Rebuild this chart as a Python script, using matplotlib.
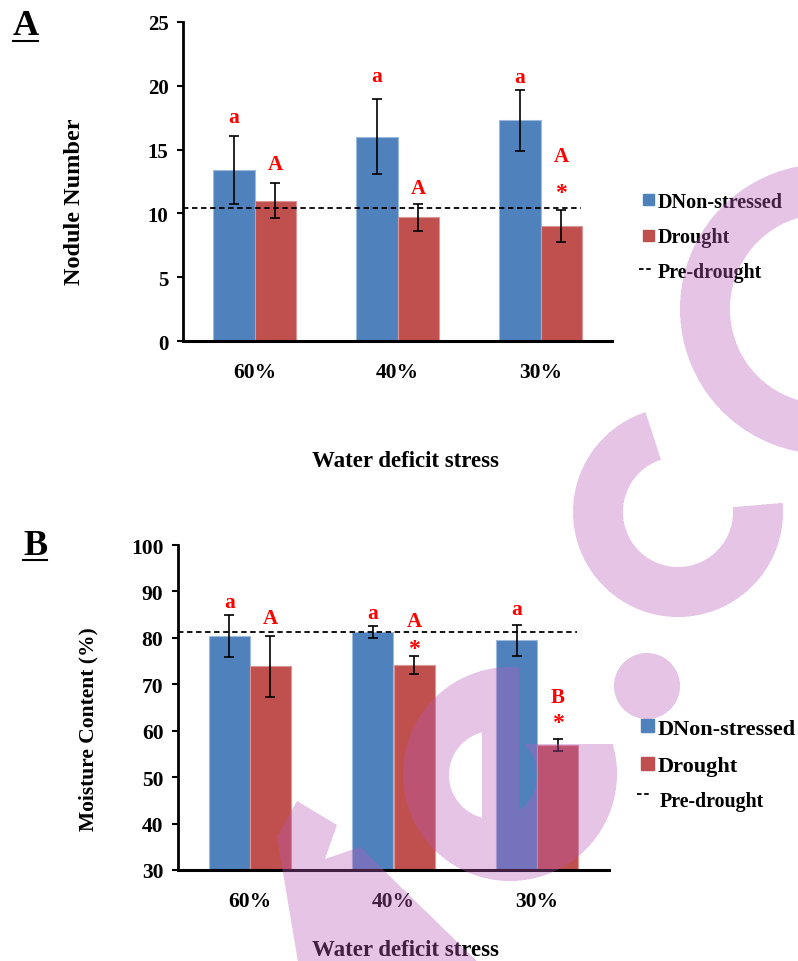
import matplotlib
matplotlib.use('Agg')
import matplotlib.pyplot as plt
from matplotlib.patches import Rectangle
from matplotlib.lines import Line2D
from matplotlib.path import Path
import numpy as np

W, H = 798, 962
SERIF = 'Liberation Serif'
BLUE = '#4F81BD'
RED = '#C0504D'

groups = ['60%', '40%', '30%']

# (A) nodule number
nod_ctrl = [13.4, 16.0, 17.3]
nod_ctrl_err = [2.7, 2.95, 2.4]
nod_drought = [11.0, 9.7, 9.0]
nod_drought_err = [1.37, 1.05, 1.27]
nod_pre = 10.4
nod_ctrl_letters = ['a', 'a', 'a']
nod_ctrl_letter_y = [17.2, 20.4, 20.3]
nod_drought_letters = ['A', 'A', 'A']
nod_drought_letter_y = [13.5, 11.6, 14.1]
nod_star_y = [None, None, 11.2]

# (B) moisture content
mc_ctrl = [80.4, 81.2, 79.5]
mc_ctrl_err = [4.5, 1.3, 3.3]
mc_drought = [73.9, 74.2, 56.9]
mc_drought_err = [6.6, 2.0, 1.3]
mc_pre = 81.2
mc_ctrl_letters = ['a', 'a', 'a']
mc_ctrl_letter_y = [86.6, 84.2, 85.2]
mc_drought_letters = ['A', 'A', 'B']
mc_drought_letter_y = [83.2, 82.5, 66.2]
mc_star_y = [None, 76.6, 60.6]

legend_labels = ['DNon-stressed', 'Drought', 'Pre-drought']


def fx(px):
    return px / W


def fy(py):
    return 1 - py / H


def draw_panel(ax, ctrl, ctrl_err, drought, drought_err, pre,
               c_lab, c_lab_y, d_lab, d_lab_y, star_y, ylim, ystep, ytick_size):
    x = np.arange(len(groups))
    w = 0.287
    ax.bar(x - w / 2, ctrl, w, color=BLUE, edgecolor='#9DB9DC', linewidth=0.8, zorder=2)
    ax.bar(x + w / 2, drought, w, color=RED, edgecolor='#D99694', linewidth=0.8, zorder=2)
    ax.errorbar(x - w / 2, ctrl, yerr=ctrl_err, fmt='none', ecolor='black',
                elinewidth=1.2, capsize=3.3, capthick=1.2, zorder=4)
    ax.errorbar(x + w / 2, drought, yerr=drought_err, fmt='none', ecolor='black',
                elinewidth=1.2, capsize=3.3, capthick=1.2, zorder=4)
    ax.plot([-0.5, 2.28], [pre, pre], color='black', lw=1.3,
            dashes=(3, 2), zorder=3, clip_on=False)

    for i in range(len(groups)):
        ax.text(x[i] - w / 2, c_lab_y[i], c_lab[i], color='red', ha='center',
                va='baseline', fontsize=15.5, fontweight='bold', family=SERIF)
        ax.text(x[i] + w / 2, d_lab_y[i], d_lab[i], color='red', ha='center',
                va='baseline', fontsize=15, fontweight='bold', family=SERIF)
        if star_y[i] is not None:
            ax.text(x[i] + w / 2, star_y[i], '*', color='red', ha='center',
                    va='baseline', fontsize=17, fontweight='bold', family=SERIF)

    ax.set_xlim(-0.5, 2.5)
    ax.set_ylim(*ylim)
    ax.set_yticks(np.arange(ylim[0], ylim[1] + 1, ystep))
    ax.set_xticks(x, groups)
    for s in ['top', 'right']:
        ax.spines[s].set_visible(False)
    ax.spines['left'].set_linewidth(2)
    ax.spines['bottom'].set_linewidth(2.2)
    ax.tick_params(axis='x', length=0, pad=15, labelsize=15.5)
    ax.tick_params(axis='y', direction='out', length=4.5, width=1.5, pad=6,
                   labelsize=ytick_size)
    for lab in ax.get_xticklabels() + ax.get_yticklabels():
        lab.set_family(SERIF)
        lab.set_fontweight('bold')


def draw_legend(fig, x_box, ys_box, x_text, ys_base, sizes, box):
    for yb, col in zip(ys_box[:2], [BLUE, RED]):
        fig.add_artist(Rectangle((fx(x_box), fy(yb + box / 2)), box / W, box / H,
                                 transform=fig.transFigure, color=col))
    fig.add_artist(Line2D([fx(x_box - 4), fx(x_box + 8)], [fy(ys_box[2])] * 2,
                          transform=fig.transFigure, color='black', lw=1.3,
                          dashes=(2.5, 1.5)))
    for lab, yb, fs, xt in zip(legend_labels, ys_base, sizes, x_text):
        fig.text(fx(xt), fy(yb), lab, ha='left', va='baseline', fontsize=fs,
                 fontweight='bold', family=SERIF)


def logo_layer():
    # pink logo mask, supersampled 2x for soft edges
    s = 2
    xs = (np.arange(W * s) + 0.5) / s
    ys = (np.arange(H * s) + 0.5) / s
    X, Y = np.meshgrid(xs, ys)

    def dist(cx, cy):
        return np.hypot(X - cx, Y - cy)

    def angle(cx, cy):
        return np.degrees(np.arctan2(cy - Y, X - cx)) % 360

    d = dist(825, 310)
    m = (d <= 145) & (d >= 95)

    d = dist(678, 513)
    a = angle(678, 513)
    m |= (d <= 105) & (d >= 55) & ~((a > 5) & (a < 108))

    m |= dist(647, 687) <= 33

    d = dist(510, 775)
    ring = (d <= 107) & (dist(493, 776) >= 44) & ~((X > 519) & (Y < 745))
    stem = (X >= 482) & (X <= 519) & (Y >= 672) & (d <= 107)
    m |= ring | stem

    stroke = Path([(297, 802), (337, 826), (325, 860), (360, 848), (490, 975),
                   (300, 975), (277, 838), (297, 802)])
    pts = np.column_stack([X.ravel(), Y.ravel()])
    m |= stroke.contains_points(pts).reshape(X.shape)

    cover = m.reshape(H, s, W, s).mean(axis=(1, 3))
    img = np.zeros((H, W, 4))
    img[..., 0] = 0.73
    img[..., 1] = 0.353
    img[..., 2] = 0.73
    img[..., 3] = 0.36 * cover
    return img


fig = plt.figure(figsize=(W / 100, H / 100), dpi=100)

ax1 = fig.add_axes([fx(183), fy(342), (612 - 183) / W, (342 - 23) / H])
draw_panel(ax1, nod_ctrl, nod_ctrl_err, nod_drought, nod_drought_err, nod_pre,
           nod_ctrl_letters, nod_ctrl_letter_y, nod_drought_letters,
           nod_drought_letter_y, nod_star_y, (0, 25), 5, 15)

ax2 = fig.add_axes([fx(178), fy(871), (609 - 178) / W, (871 - 546) / H])
draw_panel(ax2, mc_ctrl, mc_ctrl_err, mc_drought, mc_drought_err, mc_pre,
           mc_ctrl_letters, mc_ctrl_letter_y, mc_drought_letters,
           mc_drought_letter_y, mc_star_y, (30, 100), 10, 15.5)

# axis titles
fig.text(fx(75), fy(202), 'Nodule Number', rotation=90, ha='center', va='center',
         fontsize=17.5, fontweight='bold', family=SERIF)
fig.text(fx(88), fy(729), 'Moisture Content (%)', rotation=90, ha='center',
         va='center', fontsize=15.5, fontweight='bold', family=SERIF)
fig.text(fx(405), fy(467), 'Water deficit stress', ha='center', va='baseline',
         fontsize=16.5, fontweight='bold', family=SERIF)
fig.text(fx(405), fy(956), 'Water deficit stress', ha='center', va='baseline',
         fontsize=16.5, fontweight='bold', family=SERIF)

# panel letters, underlined
for letter, x0, x1, base, uline in [('A', 13, 38, 35, 42), ('B', 23, 47, 555, 561)]:
    fig.text(fx(x0), fy(base), letter, ha='left', va='baseline', fontsize=26,
             fontweight='bold', family=SERIF)
    fig.add_artist(Line2D([fx(x0), fx(x1)], [fy(uline)] * 2,
                          transform=fig.transFigure, color='black', lw=1.5))

draw_legend(fig, 643, [200.5, 236.5, 270], [658, 658, 658], [208, 243, 278],
            [14.5, 14.5, 14.3], 11)
draw_legend(fig, 641, [726.5, 764.5, 795], [658, 658, 660], [735, 772, 807],
            [16, 16, 14.3], 12.5)

# pink logo stamped over the whole page
wm = fig.add_axes([0, 0, 1, 1], zorder=10)
wm.imshow(logo_layer(), extent=(0, W, H, 0), interpolation='nearest', aspect='auto')
wm.set_xlim(0, W)
wm.set_ylim(H, 0)
wm.axis('off')

fig.savefig('out.png', dpi=100)
